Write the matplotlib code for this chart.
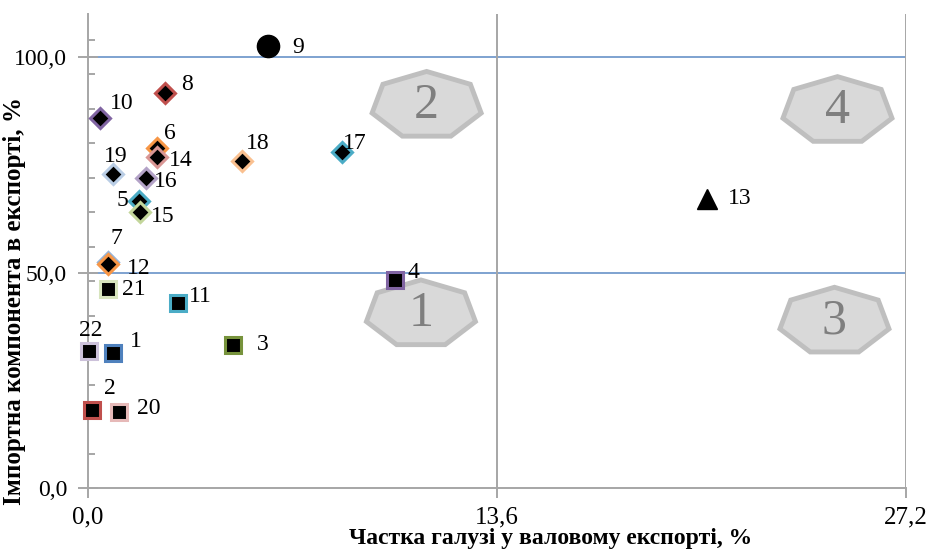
import numpy as np
import matplotlib
matplotlib.use("Agg")
import matplotlib.pyplot as plt
from matplotlib.patches import Polygon

# galuzi (nomery), chastka u valovomu eksporti (%) ta importna komponenta (%)
nomery = [1, 2, 3, 4, 5, 6, 7, 8, 9, 10, 11, 12, 13, 14, 15, 16, 17, 18, 19, 20, 21, 22]
chastka = [0.84, 0.12, 4.81, 10.21, 1.70, 2.28, 0.68, 2.56, 6.0, 0.40, 2.98,
           0.68, 20.57, 2.28, 1.73, 1.92, 8.44, 5.11, 0.84, 1.04, 0.68, 0.04]
import_komp = [31.3, 18.1, 33.3, 48.4, 66.7, 79.0, 52.4, 91.7, 102.6, 85.8, 42.9,
               52.0, 67.2, 76.9, 64.1, 71.9, 78.0, 75.9, 73.0, 17.6, 46.3, 31.9]
formy = ['s', 's', 's', 's', 'D', 'D', 'D', 'D', 'o', 'D', 's',
         'D', '^', 'D', 'D', 'D', 'D', 'D', 'D', 's', 's', 's']
kolory = ['#4F81BD', '#C0504D', '#77933C', '#8064A2', '#4BACC6', '#F79646', '#95B3D7',
          '#C0504D', 'black', '#8064A2', '#4BACC6', '#F79646', 'black', '#D99694',
          '#C3D69B', '#B3A2C7', '#4BACC6', '#FAC090', '#B9CDE5', '#E6B9B8', '#D7E4BD', '#CCC1DA']
# zsuv pidpysiv (pikseli)
zsuv = [(23, 12), (18, 22), (30, 0), (18, 7), (-17, 0), (13, 14), (8, 24), (22, 8),
        (30, -1), (22, 15), (23, 7), (30, -4), (33, 0), (24, -4), (23, -5), (20, -3),
        (13, 9), (16, 18), (2, 17), (29, 4), (25, -1), (2, 20)]

# kvadranty
kvadranty = ['1', '2', '3', '4']
kv_x = [11.07, 11.26, 24.82, 24.92]
kv_y = [40.4, 88.8, 38.7, 87.6]

plt.rcParams['font.family'] = ['Liberation Serif', 'DejaVu Serif']

fig = plt.figure(figsize=(9.31, 5.51), dpi=100)
ax = fig.add_axes([0.0945, 0.1143, 0.8787, 0.8600])

# semykutnyky z nomeramy kvadrantiv
kut = np.pi / 2 + np.arange(7) * 2 * np.pi / 7
for k, cx, cy in zip(kvadranty, kv_x, kv_y):
    verh = np.column_stack([cx + 1.86 * np.cos(kut), cy + 7.9 * np.sin(kut)])
    ax.add_patch(Polygon(verh, closed=True, facecolor='#D9D9D9', edgecolor='#BFBFBF',
                         linewidth=3.5, zorder=2))
    ax.text(cx, cy, k, ha='center', va='center', fontsize=36, color='#7F7F7F', zorder=3)

# linii rozpodilu
for yv in [50, 100]:
    ax.axhline(yv, color='#7EA2D0', linewidth=1.4, zorder=1)
for xv in [13.6, 27.2]:
    ax.axvline(xv, color='#A6A6A6', linewidth=1.4, zorder=1)

for n, x, y, f, c, (dx, dy) in zip(nomery, chastka, import_komp, formy, kolory, zsuv):
    if f == 'o':
        ax.plot(x, y, marker='o', markersize=16, color='black', linestyle='none',
                zorder=4, clip_on=False)
    elif f == '^':
        ax.plot(x, y, marker='^', markersize=15, color='black', linestyle='none',
                zorder=4, clip_on=False)
    elif f == 'D':
        ax.plot(x, y, marker='D', markersize=10, markerfacecolor='black',
                markeredgecolor=c, markeredgewidth=2.2, linestyle='none',
                zorder=4, clip_on=False)
    else:
        ax.plot(x, y, marker='s', markersize=11.5, markerfacecolor='black',
                markeredgecolor=c, markeredgewidth=2.2, linestyle='none',
                zorder=4, clip_on=False)
    ax.annotate(str(n), (x, y), xytext=(dx, dy), textcoords='offset pixels',
                ha='center', va='center', fontsize=17, zorder=5)

ax.set_xlim(0, 27.2)
ax.set_ylim(0, 110)
ax.set_xticks([0, 13.6, 27.2])
ax.set_xticklabels(['0,0', '13,6', '27,2'])
ax.set_yticks([0, 50, 100])
ax.set_yticklabels(['0,0', '50,0', '100,0'])
ax.set_yticks(np.arange(0, 110, 8), minor=True)

for s in ['top', 'right']:
    ax.spines[s].set_visible(False)
for s in ['left', 'bottom']:
    ax.spines[s].set_color('#A6A6A6')
    ax.spines[s].set_linewidth(1.4)
ax.tick_params(axis='x', which='major', direction='out', length=7, width=1.4,
               color='#A6A6A6', labelsize=18, pad=6)
ax.tick_params(axis='y', which='major', direction='inout', length=14, width=1.4,
               color='#A6A6A6', labelsize=17, pad=8)
ax.tick_params(axis='y', which='minor', direction='in', length=5, width=1.4, color='#A6A6A6')

ax.text(0.566, -0.119, 'Частка галузі у валовому експорті, %', transform=ax.transAxes,
        ha='center', va='baseline', fontsize=17, fontweight='bold')
ax.text(-0.090, 0.395, 'Імпортна компонента в експорті, %', transform=ax.transAxes,
        ha='center', va='center', rotation=90, fontsize=18, fontweight='bold')

fig.savefig('out.png', dpi=100)
